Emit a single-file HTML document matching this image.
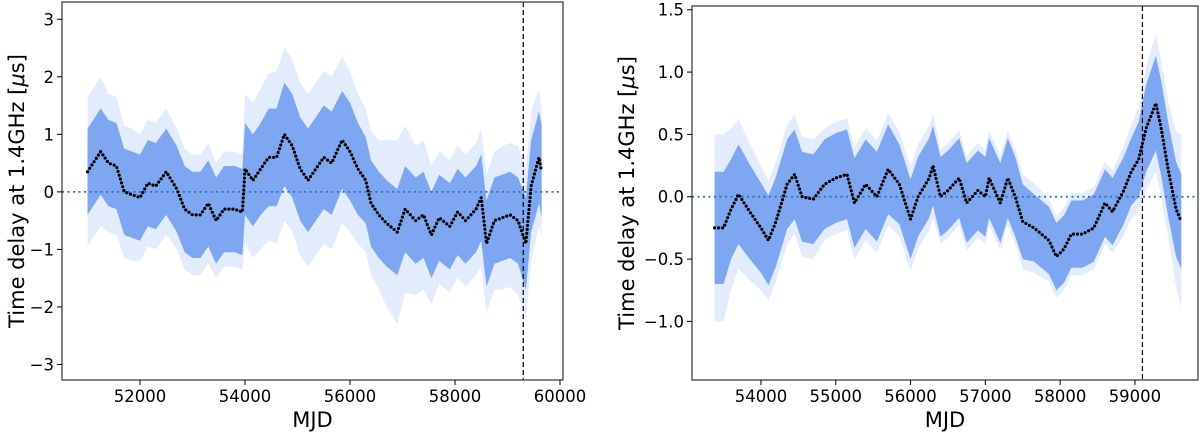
<!DOCTYPE html>
<html><head><meta charset="utf-8"><style>
body{margin:0;background:#fff;}
svg text{font-family:"DejaVu Sans","Liberation Sans",sans-serif;fill:#000;}
</style></head><body>
<svg id="c" width="1200" height="432" viewBox="0 0 1200 432" xmlns="http://www.w3.org/2000/svg"></svg>
<script>
// ---- Left panel data ----
const leftMjd = [51000,51250,51400,51550,51700,51850,52000,52150,52300,52500,52700,52850,53000,53150,53300,53450,53600,53800,53950,54000,54150,54300,54450,54600,54750,54900,55050,55200,55350,55500,55650,55850,56000,56150,56300,56400,56550,56700,56900,57050,57250,57400,57550,57700,57900,58050,58200,58400,58500,58600,58750,58900,59050,59200,59350,59450,59600,59650];
const leftVal = [0.35,0.7,0.5,0.45,0.0,-0.05,-0.1,0.15,0.1,0.35,0.05,-0.3,-0.4,-0.4,-0.2,-0.5,-0.3,-0.3,-0.35,0.4,0.2,0.4,0.6,0.6,1.0,0.8,0.4,0.2,0.4,0.6,0.5,0.9,0.7,0.4,0.2,-0.2,-0.4,-0.55,-0.7,-0.3,-0.5,-0.4,-0.75,-0.45,-0.6,-0.35,-0.5,-0.3,-0.1,-0.9,-0.5,-0.45,-0.4,-0.5,-0.9,0.1,0.6,0.35];
const leftInner = [0.75,0.75,0.75,0.75,0.75,0.75,0.75,0.75,0.75,0.75,0.75,0.75,0.75,0.75,0.75,0.75,0.75,0.75,0.75,0.8,0.8,0.8,0.85,0.85,0.9,0.9,0.9,0.9,0.9,0.9,0.9,0.85,0.85,0.8,0.75,0.75,0.75,0.75,0.75,0.75,0.75,0.75,0.75,0.75,0.75,0.75,0.75,0.75,0.75,0.75,0.75,0.75,0.75,0.75,0.8,0.8,0.8,0.8];
const leftOuter = [1.3,1.3,1.2,1.2,1.15,1.15,1.1,1.1,1.1,1.1,1.05,1.05,1.05,1.05,1.05,1.0,1.0,1.0,1.0,1.3,1.35,1.4,1.45,1.5,1.5,1.5,1.5,1.5,1.5,1.5,1.5,1.45,1.4,1.3,1.25,1.25,1.3,1.45,1.6,1.45,1.3,1.3,1.2,1.15,1.15,1.15,1.15,1.15,1.2,1.2,1.2,1.25,1.25,1.3,1.3,1.3,1.2,1.1];
const leftYTicks = [-3,-2,-1,0,1,2,3];
const leftXTicks = [52000,54000,56000,58000,60000];
const leftVLine = 59300;
// ---- Right panel data ----
const rightMjd = [53380,53500,53600,53700,53850,54000,54100,54200,54350,54450,54550,54700,54850,55000,55150,55250,55400,55550,55700,55850,56000,56100,56250,56300,56400,56500,56650,56750,56900,57000,57050,57200,57300,57400,57500,57650,57850,57950,58050,58150,58300,58450,58600,58700,58850,58950,59050,59150,59280,59350,59450,59550,59620];
const rightVal = [-0.25,-0.25,-0.1,0.02,-0.12,-0.25,-0.35,-0.2,0.1,0.18,0.0,-0.02,0.1,0.15,0.18,-0.05,0.1,0.0,0.22,0.1,-0.18,0.0,0.15,0.25,0.0,0.05,0.15,-0.05,0.05,0.0,0.15,-0.05,0.15,0.0,-0.2,-0.25,-0.35,-0.48,-0.42,-0.3,-0.3,-0.25,-0.05,-0.12,0.05,0.2,0.3,0.55,0.75,0.55,0.2,-0.1,-0.2];
const rightInner = [0.45,0.45,0.4,0.4,0.38,0.36,0.36,0.36,0.36,0.36,0.36,0.36,0.36,0.36,0.36,0.36,0.36,0.36,0.36,0.32,0.32,0.32,0.32,0.32,0.32,0.32,0.32,0.32,0.32,0.32,0.32,0.32,0.32,0.32,0.3,0.27,0.27,0.27,0.27,0.27,0.27,0.27,0.27,0.27,0.27,0.27,0.3,0.35,0.38,0.38,0.38,0.38,0.38];
const rightOuter = [0.75,0.75,0.65,0.6,0.55,0.5,0.48,0.48,0.48,0.48,0.48,0.48,0.45,0.45,0.45,0.45,0.45,0.45,0.45,0.42,0.42,0.42,0.42,0.42,0.38,0.38,0.38,0.38,0.38,0.38,0.38,0.38,0.38,0.38,0.38,0.36,0.33,0.33,0.33,0.33,0.33,0.33,0.33,0.33,0.36,0.38,0.42,0.5,0.55,0.55,0.55,0.62,0.7];
const rightYTicks = [-1.0,-0.5,0.0,0.5,1.0,1.5];
const rightXTicks = [54000,55000,56000,57000,58000,59000];
const rightVLine = 59100;

const NS='http://www.w3.org/2000/svg';
const svg=document.getElementById('c');
function mk(tag,attrs,parent){const e=document.createElementNS(NS,tag);for(const k in attrs)e.setAttribute(k,attrs[k]);(parent||svg).appendChild(e);return e;}

function panel(cfg){
  const {x0,x1,y0,y1,xmin,xmax,ymin,ymax,mjd,val,inner,outer,yTicks,xTicks,vline,fmt,name,ylabX}=cfg;
  const sx=v=>x0+(v-xmin)/(xmax-xmin)*(x1-x0);
  const sy=v=>y1-(v-ymin)/(ymax-ymin)*(y1-y0);
  const g=mk('g',{});
  
  
  function band(spread,op,nm){
    let up=mjd.map((m,i)=>sx(m)+','+sy(val[i]+spread[i]));
    let lo=mjd.map((m,i)=>sx(m)+','+sy(val[i]-spread[i])).reverse();
    const p=mk('polygon',{points:up.concat(lo).join(' '),fill:'#6495ED','fill-opacity':op},g);
    
    
  }
  band(outer,0.18,'realization-envelope-outer');
  band(inner,0.8,'realization-envelope-inner');
  const z=mk('line',{x1:x0,x2:x1,y1:sy(0),y2:sy(0),stroke:'#1f77b4','stroke-width':1.8,'stroke-dasharray':'2,3.5'},g);
  
  
  const pl=mk('polyline',{points:mjd.map((m,i)=>sx(m)+','+sy(val[i])).join(' '),fill:'none',stroke:'#000','stroke-width':3.2,'stroke-linecap':'round','stroke-dasharray':'0,4'},g);
  
  
  const vl=mk('line',{x1:sx(vline),x2:sx(vline),y1:y0,y2:y1,stroke:'#000','stroke-width':1.2,'stroke-dasharray':'5,3'},g);
  
  
  const fr=mk('rect',{x:x0,y:y0,width:x1-x0,height:y1-y0,fill:'none',stroke:'#333','stroke-width':1.2},g);
  
  
  yTicks.forEach(t=>{
    const y=sy(t);
    mk('line',{x1:x0-5,x2:x0,y1:y,y2:y,stroke:'#000'},g);
    const tx=mk('text',{x:x0-8,y:y+6,'text-anchor':'end','font-size':16.5},g);
    tx.textContent=fmt(t).replace('-','\u2212');
    
    
  });
  xTicks.forEach(t=>{
    const x=sx(t);
    mk('line',{x1:x,x2:x,y1:y1,y2:y1+5,stroke:'#000'},g);
    const tx=mk('text',{x:x,y:y1+22,'text-anchor':'middle','font-size':16.5},g);
    tx.textContent=String(t);
    
    
  });
  const xl=mk('text',{x:(x0+x1)/2,y:y1+47,'text-anchor':'middle','font-size':21},g);
  xl.textContent='MJD';
  
  
  const cy=(y0+y1)/2;
  const yl=mk('text',{x:ylabX,y:cy,'text-anchor':'middle','font-size':21,transform:`rotate(-90 ${ylabX} ${cy})`},g);
  yl.innerHTML='Time delay at 1.4GHz [<tspan font-style="italic">μ</tspan>s]';
  
  
}
panel({x0:62,x1:563,y0:2,y1:380,xmin:50514,xmax:60057,ymin:-3.27,ymax:3.3,mjd:leftMjd,val:leftVal,inner:leftInner,outer:leftOuter,yTicks:leftYTicks,xTicks:leftXTicks,vline:leftVLine,fmt:t=>String(t),name:'left-panel',ylabX:24});
panel({x0:692,x1:1198,y0:6,y1:380,xmin:53078,xmax:59843,ymin:-1.47,ymax:1.53,mjd:rightMjd,val:rightVal,inner:rightInner,outer:rightOuter,yTicks:rightYTicks,xTicks:rightXTicks,vline:rightVLine,fmt:t=>t.toFixed(1),name:'right-panel',ylabX:634});
</script>
</body></html>
